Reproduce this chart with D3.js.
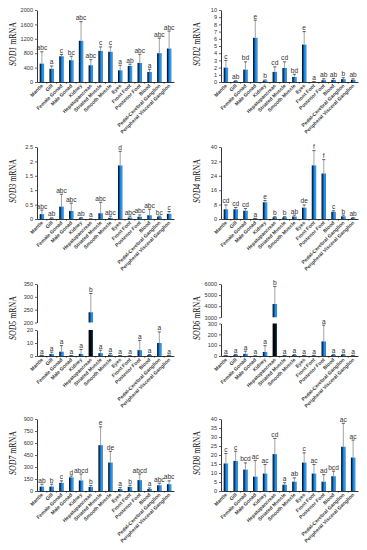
<!DOCTYPE html>
<html>
<head>
<meta charset="utf-8">
<script src="https://cdn.jsdelivr.net/npm/d3@7"></script>
<style>
  body { margin: 0; background: #fff; }
  svg { display: block; }
  .tick-label { font-family: "Liberation Sans", Arial, sans-serif; font-size: 5.6px; fill: #333; }
  .cat-label { font-family: "Liberation Sans", Arial, sans-serif; font-size: 5px; font-weight: bold; fill: #3a3a3a; }
  .sig { font-family: "Liberation Sans", Arial, sans-serif; font-size: 6.6px; fill: #333; }
  .ylab { font-family: "Liberation Serif", "Times New Roman", serif; font-size: 11px; fill: #111; }
</style>
</head>
<body>
<svg id="chart"></svg>
<script>
// tissue categories, same for every panel
const categories = ['Mantle', 'Gill', 'Female Gonad', 'Male Gonad', 'Kidney', 'Hepatopancreas',
  'Striated Muscle', 'Smooth Muscle', 'Eyes', 'Front Foot', 'Posterior Foot', 'Blood',
  'Pedal-Cerebral  Ganglion', 'Peripheral Visceral  Ganglion'];

// values (mean, top of error bar, letters)
const sod1Values = [510, 365, 715, 605, 1145, 465, 865, 840, 325, 445, 530, 280, 800, 930];
const sod1ErrTop = [840, 445, 765, 715, 1675, 620, 975, 975, 465, 495, 770, 355, 1220, 1415];
const sod1Letters = ['abc', 'a', 'c', 'bc', 'abc', 'abc', 'c', 'c', 'a', 'ab', 'abc', 'a', 'abc', 'abc'];
const sod1Ticks = [0, 400, 800, 1200, 1600, 2000];

const sod2Values = [2.0, 0.12, 1.72, 6.14, 0.2, 1.4, 1.95, 0.7, 5.2, 0.04, 0.25, 0.3, 0.4, 0.3];
const sod2ErrTop = [3.0, 0.18, 2.8, 8.6, 0.28, 2.1, 2.8, 1.07, 7.0, 0.05, 0.45, 0.5, 0.6, 0.45];
const sod2Letters = ['c', 'ab', 'bd', 'e', 'b', 'cd', 'cd', 'bd', 'e', 'a', 'ab', 'ab', 'b', 'ab'];
const sod2Ticks = [0, 1, 2, 3, 4, 5, 6, 7, 8, 9, 10];

const sod3Values = [0.17, 0.02, 0.43, 0.28, 0.03, 0.005, 0.2, 0.04, 1.86, 0.05, 0.08, 0.13, 0.08, 0.18];
const sod3ErrTop = [0.31, 0.04, 0.86, 0.55, 0.05, 0.006, 0.58, 0.1, 2.35, 0.1, 0.14, 0.34, 0.1, 0.26];
const sod3Letters = ['abc', 'ab', 'abc', 'abc', 'ab', 'a', 'abc', 'abc', 'd', 'abc', 'abc', 'abc', 'bc', 'c'];
const sod3Ticks = [0, 0.5, 1, 1.5, 2, 2.5];

const sod4Values = [5.4, 5.4, 4.6, 0.3, 9.3, 1.0, 1.0, 1.4, 6.3, 29.8, 25.3, 4.0, 1.5, 0.5];
const sod4ErrTop = [7.8, 6.4, 5.8, 0.4, 10.3, 1.3, 1.3, 2.2, 7.8, 38, 33, 4.6, 2.2, 0.8];
const sod4Letters = ['cd', 'cd', 'cd', 'a', 'e', 'b', 'b', 'ab', 'de', 'f', 'f', 'c', 'b', 'ab'];
const sod4Ticks = [0, 8, 16, 24, 32, 40];

const sod5Values = [0.5, 1.5, 3.3, 0.3, 1.6, 240, 2.2, 1.0, 0.3, 0.2, 4.5, 0.8, 10, 0.5];
const sod5ErrTop = [0.6, 3, 8, 0.4, 5, 313, 4.5, 2, 0.4, 0.3, 12, 1.1, 18.5, 0.6];
const sod5Letters = ['a', 'a', 'a', 'a', 'a', 'b', 'a', 'a', 'a', 'a', 'a', 'a', 'a', 'a'];
const sod5LowTicks = [0, 10, 20];
const sod5HighTicks = [200, 250, 300, 350];

const sod6Values = [5, 12, 20, 2, 37, 4200, 5, 10, 5, 5, 135, 10, 12, 5];
const sod6ErrTop = [6, 15, 45, 3, 95, 5780, 6, 12, 6, 6, 285, 15, 15, 6];
const sod6Letters = ['a', 'a', 'a', 'a', 'a', 'b', 'a', 'a', 'a', 'a', 'a', 'a', 'a', 'a'];
const sod6LowTicks = [0, 100, 200, 300];
const sod6HighTicks = [3000, 4000, 5000, 6000];

const sod7Values = [55, 55, 102, 170, 132, 51, 573, 356, 25, 51, 136, 25, 72, 85];
const sod7ErrTop = [85, 85, 127, 187, 212, 68, 802, 497, 42, 72, 212, 38, 98, 127];
const sod7Letters = ['ab', 'b', 'c', 'd', 'abcd', 'b', 'e', 'de', 'a', 'b', 'abcd', 'a', 'abc', 'abc'];
const sod7Ticks = [0, 150, 300, 450, 600, 750, 900];

const sod8Values = [15.3, 16.7, 11.9, 8.0, 9.7, 20.5, 3.5, 5.2, 15.8, 9.7, 5.2, 8.2, 24.6, 18.6];
const sod8ErrTop = [20.8, 22.1, 15.6, 17.0, 14.7, 29.2, 4.6, 7.3, 21.2, 14.7, 9.1, 11.0, 37.6, 28.3];
const sod8Letters = ['c', 'c', 'bcd', 'ac', 'ac', 'cd', 'a', 'ab', 'c', 'ac', 'ad', 'bcd', 'ac', 'ac'];
const sod8Ticks = [0, 5, 10, 15, 20, 25, 30, 35, 40];

const panels = [
  {gene: 'SOD1', values: sod1Values, err: sod1ErrTop, letters: sod1Letters, ticks: sod1Ticks, col: 0, row: 0},
  {gene: 'SOD2', values: sod2Values, err: sod2ErrTop, letters: sod2Letters, ticks: sod2Ticks, col: 1, row: 0},
  {gene: 'SOD3', values: sod3Values, err: sod3ErrTop, letters: sod3Letters, ticks: sod3Ticks, col: 0, row: 1},
  {gene: 'SOD4', values: sod4Values, err: sod4ErrTop, letters: sod4Letters, ticks: sod4Ticks, col: 1, row: 1},
  {gene: 'SOD5', values: sod5Values, err: sod5ErrTop, letters: sod5Letters, low: sod5LowTicks, high: sod5HighTicks, col: 0, row: 2},
  {gene: 'SOD6', values: sod6Values, err: sod6ErrTop, letters: sod6Letters, low: sod6LowTicks, high: sod6HighTicks, col: 1, row: 2},
  {gene: 'SOD7', values: sod7Values, err: sod7ErrTop, letters: sod7Letters, ticks: sod7Ticks, col: 0, row: 3},
  {gene: 'SOD8', values: sod8Values, err: sod8ErrTop, letters: sod8Letters, ticks: sod8Ticks, col: 1, row: 3}
];

const width = 367, height = 550;
const colX = [0, 184];
const rowY = [0, 137, 274, 409];
const plotTop = 10, plotBottom = 82;

const svg = d3.select('#chart').attr('width', width).attr('height', height);

// bar fill: dark left edge into blue
const defs = svg.append('defs');
const grad = defs.append('linearGradient').attr('id', 'barGrad').attr('x1', '0%').attr('x2', '100%');
[['0%', '#000'], ['28%', '#0b3f78'], ['55%', '#1a86e0'], ['85%', '#2c9df2'], ['100%', '#0e5aa6']]
  .forEach(s => grad.append('stop').attr('offset', s[0]).attr('stop-color', s[1]));
const gradDark = defs.append('linearGradient').attr('id', 'barDark').attr('x1', '0%').attr('x2', '100%');
[['0%', '#000'], ['60%', '#050a12'], ['85%', '#0d2f55'], ['100%', '#1a5a9a']]
  .forEach(s => gradDark.append('stop').attr('offset', s[0]).attr('stop-color', s[1]));

const x = d3.scaleBand()
    .domain(categories)
    .range([37, 174])
    .paddingInner(0.55)
    .paddingOuter(0.275);

panels.forEach(p => {
  const g = svg.append('g').attr('transform', `translate(${colX[p.col]},${rowY[p.row]})`);

  // y scales; broken panels get two pieces
  let yLow, yHigh = null, lowMax;
  if (p.ticks) {
    yLow = d3.scaleLinear().domain([0, d3.max(p.ticks)]).range([plotBottom, plotTop]);
    lowMax = d3.max(p.ticks);
  } else {
    lowMax = d3.max(p.low);
    yLow = d3.scaleLinear().domain([0, lowMax]).range([plotBottom, p.gene === 'SOD5' ? 56 : 49.5]);
    yHigh = d3.scaleLinear().domain([d3.min(p.high), d3.max(p.high)])
      .range([p.gene === 'SOD5' ? 48.5 : 43.3, plotTop]);
  }
  const yPos = v => (yHigh && v > lowMax) ? yHigh(v) : yLow(v);

  // y axis
  const drawAxis = (scale, ticks) => {
    const ax = g.append('g')
        .attr('transform', 'translate(37,0)')
        .call(d3.axisLeft(scale).tickValues(ticks).tickFormat(d => String(d))
          .tickSize(2).tickSizeOuter(0).tickPadding(2));
    ax.select('.domain').attr('stroke', '#000').attr('stroke-width', 0.8);
    ax.selectAll('.tick line').attr('stroke', '#000').attr('stroke-width', 0.6);
    ax.selectAll('.tick text').attr('class', 'tick-label').attr('font-size', null).attr('font-family', null).attr('fill', null);
  };
  if (p.ticks) drawAxis(yLow, p.ticks);
  else { drawAxis(yLow, p.low); drawAxis(yHigh, p.high); }

  // x axis
  const xa = g.append('g')
      .attr('transform', `translate(0,${plotBottom})`)
      .call(d3.axisBottom(x).tickSize(0).tickFormat(''));
  xa.select('.domain').attr('stroke', '#000').attr('stroke-width', 0.8);
  g.selectAll('.sep')
    .data(categories.slice(1))
    .join('line')
      .attr('x1', d => x(d) - x.step() * x.paddingInner() / 2)
      .attr('x2', d => x(d) - x.step() * x.paddingInner() / 2)
      .attr('y1', plotBottom).attr('y2', plotBottom + 1.8)
      .attr('stroke', '#000').attr('stroke-width', 0.5);

  g.selectAll('.cat-label')
    .data(categories)
    .join('text')
      .attr('class', 'cat-label')
      .attr('text-anchor', 'end')
      .attr('transform', d => `translate(${x(d) + x.bandwidth() / 2 + 1.5},${plotBottom + 4}) rotate(-45)`)
      .text(d => d);

  const rows = categories.map((c, i) => ({c, v: p.values[i], e: p.err[i], l: p.letters[i]}));

  // bars (lower piece + upper piece for broken axes)
  g.selectAll('.bar')
    .data(rows)
    .join('rect')
      .attr('x', d => x(d.c))
      .attr('width', x.bandwidth())
      .attr('y', d => yLow(Math.min(d.v, lowMax)))
      .attr('height', d => plotBottom - yLow(Math.min(d.v, lowMax)))
      .attr('fill', d => (yHigh && d.v > lowMax) ? 'url(#barDark)' : 'url(#barGrad)');
  if (yHigh) {
    g.selectAll('.bar-hi')
      .data(rows.filter(d => d.v > lowMax))
      .join('rect')
        .attr('x', d => x(d.c))
        .attr('width', x.bandwidth())
        .attr('y', d => yHigh(d.v))
        .attr('height', d => yHigh.range()[0] - yHigh(d.v))
        .attr('fill', 'url(#barGrad)');
  }

  // error bars
  const cx = d => x(d.c) + x.bandwidth() / 2;
  g.selectAll('.err')
    .data(rows)
    .join('line')
      .attr('x1', cx).attr('x2', cx)
      .attr('y1', d => yPos(d.v)).attr('y2', d => yPos(d.e))
      .attr('stroke', '#8a8a8a').attr('stroke-width', 0.8);
  g.selectAll('.cap')
    .data(rows)
    .join('line')
      .attr('x1', d => cx(d) - 1.6).attr('x2', d => cx(d) + 1.6)
      .attr('y1', d => yPos(d.e)).attr('y2', d => yPos(d.e))
      .attr('stroke', '#222').attr('stroke-width', 0.7);

  // significance letters
  g.selectAll('.sig')
    .data(rows)
    .join('text')
      .attr('class', 'sig')
      .attr('text-anchor', 'middle')
      .attr('x', cx)
      .attr('y', d => yPos(d.e) - 1.5)
      .text(d => d.l);

  // y title
  const yt = g.append('text')
      .attr('class', 'ylab')
      .attr('text-anchor', 'middle')
      .attr('textLength', 44)
      .attr('lengthAdjust', 'spacingAndGlyphs')
      .attr('transform', `translate(16,${(plotTop + plotBottom) / 2 - 2}) rotate(-90)`);
  yt.append('tspan').attr('font-style', 'italic').text(p.gene);
  yt.append('tspan').text(' mRNA');
});
</script>
</body>
</html>
